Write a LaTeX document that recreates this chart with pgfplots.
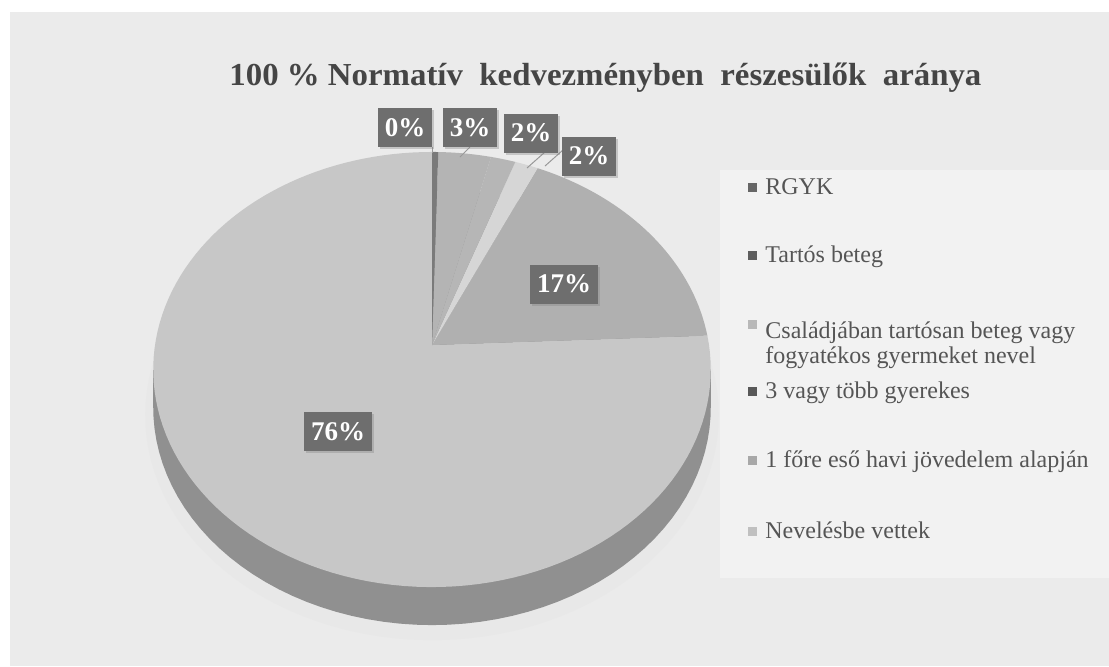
\documentclass[border=0pt]{standalone}
\usepackage{pgfplots}
\pgfplotsset{compat=1.18}
\usepackage{fontspec}
\setmainfont{Liberation Serif}
\usetikzlibrary{shadows}
\definecolor{pagebg}{HTML}{EBEBEB}
\definecolor{legbg}{HTML}{F2F2F2}
\definecolor{sside}{HTML}{909090}
\definecolor{sA}{HTML}{7A7A7A}
\definecolor{sB}{HTML}{B4B4B4}
\definecolor{sC}{HTML}{B6B6B6}
\definecolor{sD}{HTML}{D6D6D6}
\definecolor{sE}{HTML}{B0B0B0}
\definecolor{sF}{HTML}{C7C7C7}
\definecolor{lbl}{HTML}{6E6E6E}
\definecolor{ttl}{HTML}{454545}
\definecolor{legtxt}{HTML}{555555}
\definecolor{mA}{HTML}{666666}
\definecolor{mB}{HTML}{5E5E5E}
\definecolor{mC}{HTML}{B8B8B8}
\definecolor{mD}{HTML}{585858}
\definecolor{mE}{HTML}{A8A8A8}
\definecolor{mF}{HTML}{C0C0C0}
\newcommand{\PX}{432+277*sin(3.6*x)/(1+0.1127*cos(3.6*x))}
\newcommand{\PY}{345-214.8*cos(3.6*x)/(1+0.1127*cos(3.6*x))}
\newcommand{\PYs}{383-214.8*cos(3.6*x)/(1+0.1127*cos(3.6*x))}
\tikzset{lab/.style={fill=lbl,text=white,font=\bfseries\fontsize{13.5}{14}\selectfont,minimum height=19.5pt,inner xsep=3.5pt,inner ysep=0pt,drop shadow={shadow xshift=1pt,shadow yshift=-1pt,opacity=0.35}},
leg/.style={anchor=base west,font=\fontsize{12}{12.5}\selectfont,text=legtxt,inner sep=0pt,align=left}}
\begin{document}
\begin{tikzpicture}
\begin{axis}[width=554.5pt,height=333pt,scale only axis,xmin=0,xmax=1109,ymin=0,ymax=666,y dir=reverse,axis lines=none,clip=false]
% background
\fill[white] (0,0) rectangle (1109,666);
\fill[pagebg] (10,12) rectangle (1109,666);
\fill[legbg] (720,170) rectangle (1109,578);
% shadow under pie
\addplot[fill=black!9,draw=none,domain=0:100,samples=121] ({432+285*sin(3.6*x)/(1+0.1127*cos(3.6*x))},{390-222*cos(3.6*x)/(1+0.1127*cos(3.6*x))}) -- cycle;
% side of pie
\addplot[fill=sside,draw=none,domain=0:100,samples=121] ({\PX},{\PYs}) -- cycle;
\fill[sside] (153.2,369.5) rectangle (710.8,407.5);
% top face slices
\addplot[fill=sF,draw=none,domain=24.3:100,samples=121] ({\PX},{\PY}) -- (432,345) -- cycle;
\addplot[fill=sE,draw=none,domain=6.9:24.3,samples=41] ({\PX},{\PY}) -- (432,345) -- cycle;
\addplot[fill=sD,draw=none,domain=5.4:6.9,samples=6] ({\PX},{\PY}) -- (432,345) -- cycle;
\addplot[fill=sC,draw=none,domain=3.8:5.4,samples=6] ({\PX},{\PY}) -- (432,345) -- cycle;
\addplot[fill=sB,draw=none,domain=0.4:3.8,samples=10] ({\PX},{\PY}) -- (432,345) -- cycle;
\addplot[fill=sA,draw=none,domain=0:0.4,samples=3] ({\PX},{\PY}) -- (432,345) -- cycle;
% leader lines
\draw[black!40,line width=0.5pt] (432,147) -- (432,153);
\draw[black!40,line width=0.5pt] (470,147) -- (460,157);
\draw[black!40,line width=0.5pt] (545,152) -- (527,168);
\draw[black!40,line width=0.5pt] (563,150) -- (545,166);
% labels
\node[lab] at (405,127.5) {0\%};
\node[lab] at (470,127.5) {3\%};
\node[lab] at (531,133) {2\%};
\node[lab] at (589,156) {2\%};
\node[lab] at (564,284) {17\%};
\node[lab] at (338,431.5) {76\%};
% title
\node[anchor=base west,inner sep=0pt,text=ttl,font=\bfseries\fontsize{16}{18}\selectfont] at (229,85)
  {\resizebox{376pt}{\height}{100 \%\ Normatív\ \ kedvezményben\ \ részesülők\ \ aránya}};
% legend
\fill[mA] (748,183) rectangle (757,192);
\node[leg] at (765,194) {RGYK};
\fill[mB] (748,251) rectangle (757,260);
\node[leg] at (765,262) {Tartós beteg};
\fill[mC] (748,320) rectangle (757,329);
\node[leg,anchor=north west] at (765,321) {Családjában tartósan beteg vagy\\fogyatékos gyermeket nevel};
\fill[mD] (748,387) rectangle (757,396);
\node[leg] at (765,398) {3 vagy több gyerekes};
\fill[mE] (748,456) rectangle (757,465);
\node[leg] at (765,467) {1 főre eső havi jövedelem alapján};
\fill[mF] (748,527) rectangle (757,536);
\node[leg] at (765,538) {Nevelésbe vettek};
\end{axis}
\end{tikzpicture}
\end{document}
